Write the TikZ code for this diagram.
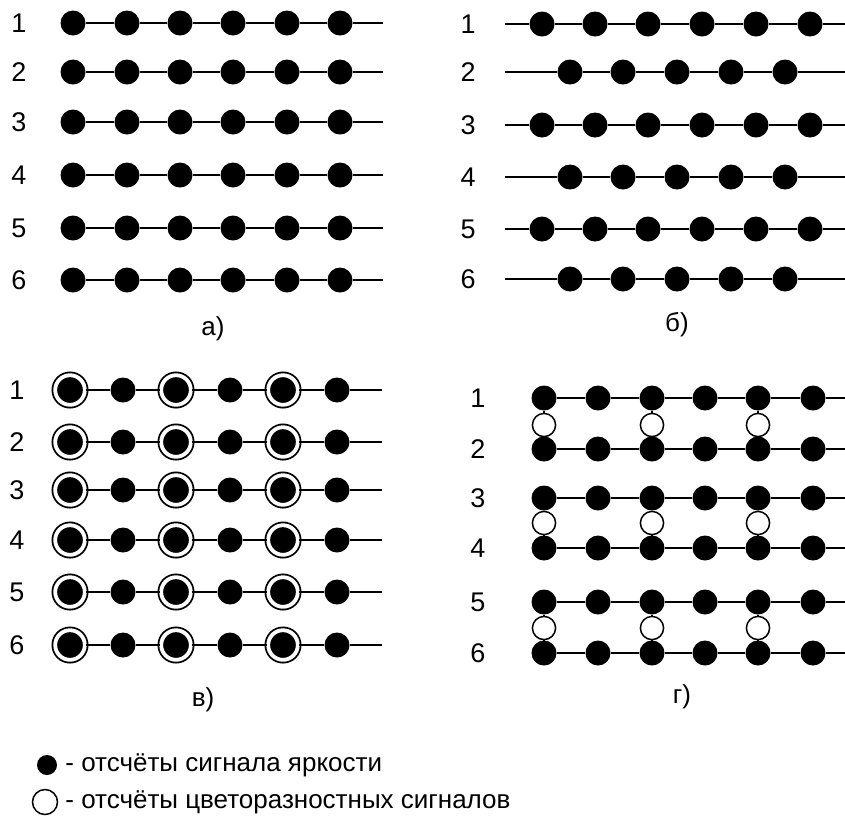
\documentclass[tikz,border=0pt]{standalone}
\usepackage{fontspec}
\setmainfont{Liberation Sans}
\usepackage{tikz}
\usetikzlibrary{positioning}

\begin{document}
\begin{tikzpicture}[x=0.5pt, y=-0.5pt,
  luma/.style={circle, fill=black, inner sep=0pt, minimum size=12.5pt},
  both/.style={circle, fill=black, draw=black, double=white, double distance=1.9pt,
    line width=0.9pt, inner sep=0pt, minimum size=14.8pt},
  chroma/.style={circle, draw=black, fill=white, line width=0.75pt, inner sep=0pt, minimum size=11.6pt},
  ln/.style={line width=0.85pt},
  num/.style={font=\fontsize{13.5}{15}\selectfont},
  panelcap/.style={font=\fontsize{13}{15}\selectfont},
  lgd/.style={font=\fontsize{13}{15}\selectfont, anchor=west, inner sep=0pt}]

  \useasboundingbox (0,0) rectangle (845,821);

  % a) all rows the same
  \foreach \r/\y in {1/23,2/72,3/122,4/175,5/228,6/280} {
    \node[num] (a-n\r) at (19,\y) {\r};
    \foreach \c/\x in {1/73,2/127,3/180,4/233,5/287,6/340}
      \node[luma] (a-\r-\c) at (\x,\y) {};
    \coordinate (a-\r-e) at (383,\y);
    \draw[ln] (a-\r-1) -- (a-\r-2) -- (a-\r-3) -- (a-\r-4) -- (a-\r-5) -- (a-\r-6) -- (a-\r-e);
  }
  \node[panelcap] (a-cap) at (213,329) {а)};

  % b) odd rows
  \foreach \r/\y in {1/24,3/125,5/229} {
    \node[num] (b-n\r) at (468,\y) {\r};
    \foreach \c/\x in {1/542,2/595,3/648,4/702,5/756,6/810}
      \node[luma] (b-\r-\c) at (\x,\y) {};
    \coordinate (b-\r-s) at (505,\y);
    \coordinate (b-\r-e) at (845,\y);
    \draw[ln] (b-\r-s) -- (b-\r-1) -- (b-\r-2) -- (b-\r-3) -- (b-\r-4) -- (b-\r-5) -- (b-\r-6) -- (b-\r-e);
  }
  % b) even rows, shifted
  \foreach \r/\y in {2/72,4/177,6/279} {
    \node[num] (b-n\r) at (468,\y) {\r};
    \foreach \c/\x in {1/570,2/623,3/677,4/731,5/785}
      \node[luma] (b-\r-\c) at (\x,\y) {};
    \coordinate (b-\r-s) at (505,\y);
    \coordinate (b-\r-e) at (845,\y);
    \draw[ln] (b-\r-s) -- (b-\r-1) -- (b-\r-2) -- (b-\r-3) -- (b-\r-4) -- (b-\r-5) -- (b-\r-e);
  }
  \node[panelcap] (b-cap) at (677,325) {б)};

  % c) every second sample carries colour
  \foreach \r/\y in {1/390,2/442,3/490,4/540,5/592,6/645} {
    \node[num] (c-n\r) at (17,\y) {\r};
    \foreach \c/\x in {1/70,3/176,5/283}
      \node[both] (c-\r-\c) at (\x,\y) {};
    \foreach \c/\x in {2/123,4/230,6/337}
      \node[luma] (c-\r-\c) at (\x,\y) {};
    \coordinate (c-\r-e) at (382,\y);
    \draw[ln] (c-\r-1) -- (c-\r-2) -- (c-\r-3) -- (c-\r-4) -- (c-\r-5) -- (c-\r-6) -- (c-\r-e);
  }
  \node[panelcap] (c-cap) at (203,700) {в)};

  % d) colour between line pairs
  \foreach \r/\y in {1/398,2/449,3/498,4/548,5/602,6/653} {
    \node[num] (d-n\r) at (478,\y) {\r};
    \foreach \c/\x in {1/544,2/598,3/652,4/705,5/758,6/813}
      \node[luma] (d-\r-\c) at (\x,\y) {};
    \coordinate (d-\r-e) at (845,\y);
    \draw[ln] (d-\r-1) -- (d-\r-2) -- (d-\r-3) -- (d-\r-4) -- (d-\r-5) -- (d-\r-6) -- (d-\r-e);
  }
  \foreach \p/\q/\y in {1/2/425,3/4/523,5/6/628}
    \foreach \c/\x in {1/544,3/652,5/758} {
      \node[chroma] (d-o\p-\c) at (\x,\y) {};
      \draw[ln] (d-\p-\c) -- (d-o\p-\c) -- (d-\q-\c);
    }
  \node[panelcap] (d-cap) at (682,697) {г)};

  % legend
  \node[luma, minimum size=10pt] (lg-luma) at (47,765) {};
  \node[lgd] (lg-t1) at (65,765) {- отсчёты сигнала яркости};
  \node[chroma, minimum size=12.5pt] (lg-chroma) at (45,802) {};
  \node[lgd] (lg-t2) at (65,802) {- отсчёты цветоразностных сигналов};
\end{tikzpicture}
\end{document}
